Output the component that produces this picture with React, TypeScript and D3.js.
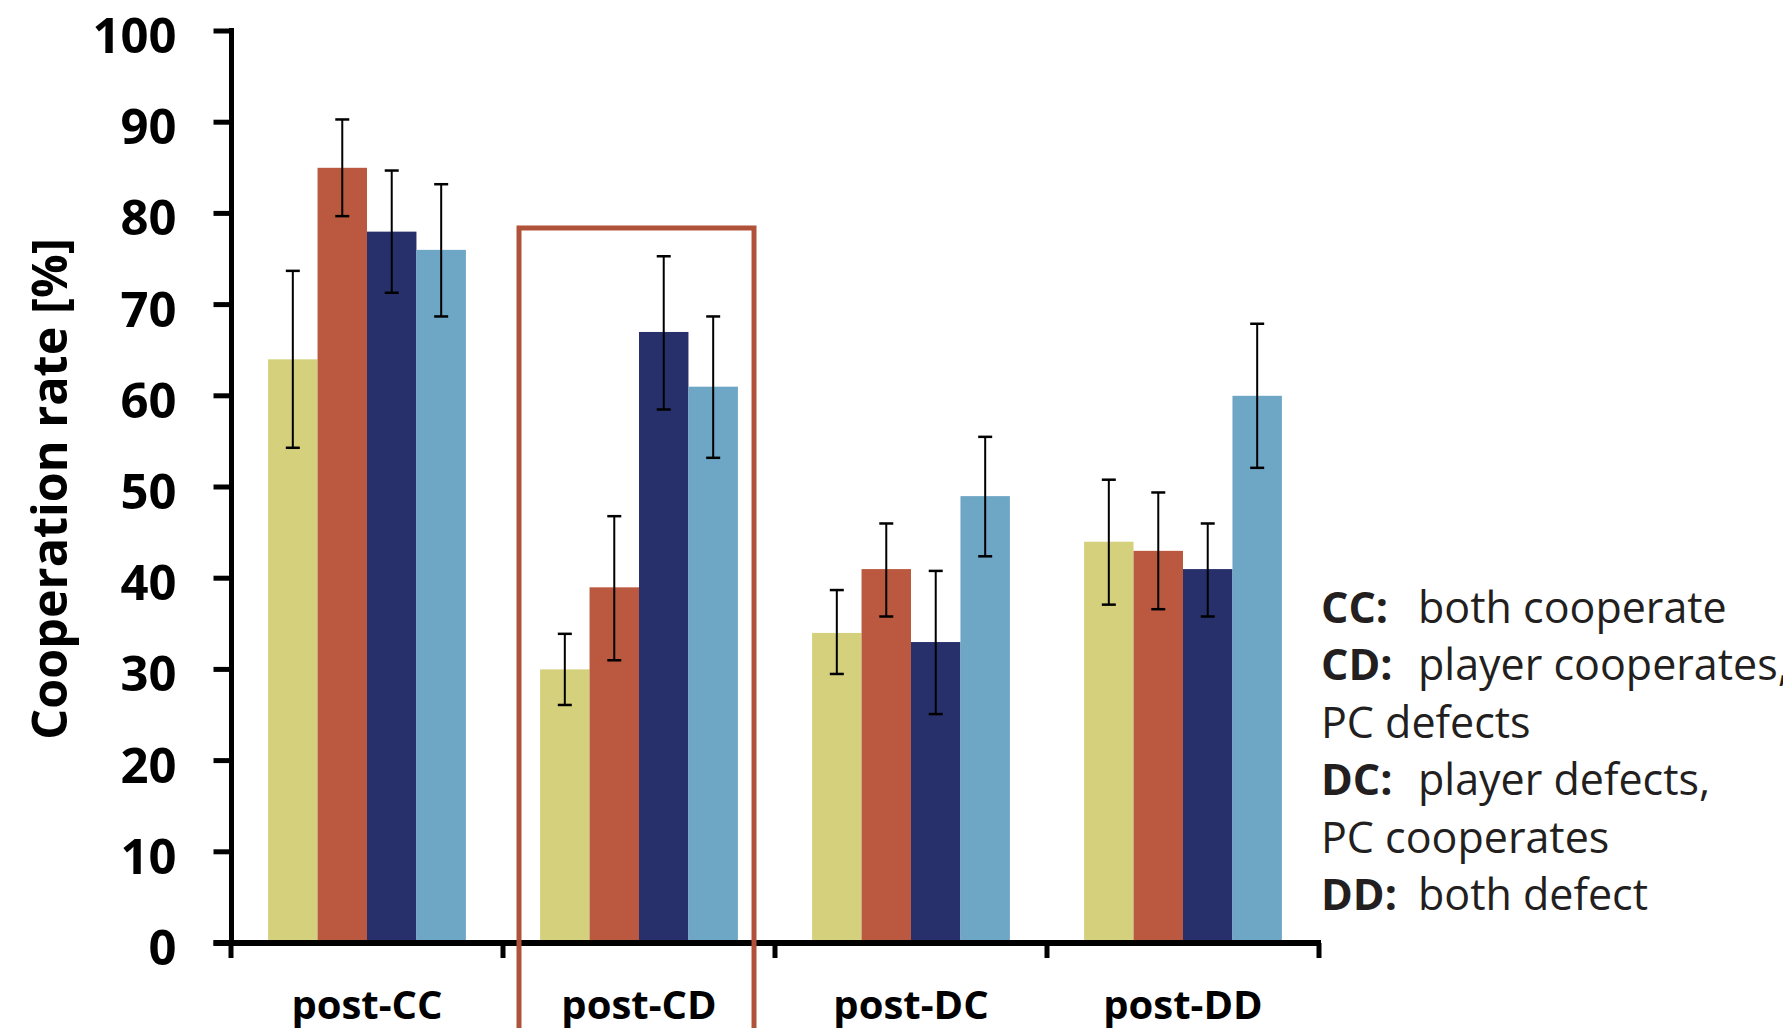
import React, { useEffect, useRef } from 'react';
import * as d3 from 'd3';

const categories = ['post-CC', 'post-CD', 'post-DC', 'post-DD'];
const yTicks = [0, 10, 20, 30, 40, 50, 60, 70, 80, 90, 100];

// four conditions, one value per category
const series1Mean = [64, 30, 34, 44];
const series1Hi = [73.7, 33.9, 38.7, 50.8];
const series1Lo = [54.3, 26.1, 29.5, 37.1];

const series2Mean = [85, 39, 41, 43];
const series2Hi = [90.3, 46.8, 46.0, 49.4];
const series2Lo = [79.7, 31.0, 35.8, 36.6];

const series3Mean = [78, 67, 33, 41];
const series3Hi = [84.7, 75.3, 40.8, 46.0];
const series3Lo = [71.3, 58.5, 25.1, 35.8];

const series4Mean = [76, 61, 49, 60];
const series4Hi = [83.2, 68.7, 55.5, 67.9];
const series4Lo = [68.7, 53.2, 42.4, 52.1];

const seriesColors = ['#d5d07c', '#bb5940', '#27306b', '#6ea7c6'];

const legendLines = [
  { key: 'CC:', text: 'both cooperate' },
  { key: 'CD:', text: 'player cooperates,' },
  { key: '', text: 'PC defects' },
  { key: 'DC:', text: 'player defects,' },
  { key: '', text: 'PC cooperates' },
  { key: 'DD:', text: 'both defect' },
];

const highlighted = 'post-CD';

const W = 1783;
const H = 1028;
const FONT = "'Open Sans', 'DejaVu Sans', sans-serif";

type Row = { cat: string; ci: number; si: number; mean: number; hi: number; lo: number };

const App = () => {
  const ref = useRef<SVGSVGElement>(null);

  useEffect(() => {
    const svg = d3.select(ref.current);
    svg.selectAll('*').remove();

    const means = [series1Mean, series2Mean, series3Mean, series4Mean];
    const his = [series1Hi, series2Hi, series3Hi, series4Hi];
    const los = [series1Lo, series2Lo, series3Lo, series4Lo];

    const rows: Row[] = [];
    categories.forEach((cat, ci) => {
      means.forEach((m, si) => {
        rows.push({ cat, ci, si, mean: m[ci], hi: his[si][ci], lo: los[si][ci] });
      });
    });

    const x = d3.scaleBand().domain(categories).range([231, 1319]).padding(0);
    const xSub = d3.scaleBand<number>()
      .domain([0, 1, 2, 3])
      .range([0, x.bandwidth()])
      .paddingInner(0)
      .paddingOuter(0.75);
    const y = d3.scaleLinear().domain([0, 100]).range([943, 31]);

    // bars
    svg.append('g')
      .selectAll('rect')
      .data(rows)
      .join('rect')
      .attr('x', d => (x(d.cat) as number) + (xSub(d.si) as number))
      .attr('y', d => y(d.mean))
      .attr('width', xSub.bandwidth())
      .attr('height', d => y(0) - y(d.mean))
      .attr('fill', d => seriesColors[d.si]);

    // error bars
    const eb = svg.append('g')
      .selectAll('g')
      .data(rows)
      .join('g')
      .attr('transform', d => `translate(${(x(d.cat) as number) + (xSub(d.si) as number) + xSub.bandwidth() / 2},0)`)
      .attr('stroke', '#000')
      .attr('stroke-width', 2);
    eb.append('line').attr('y1', d => y(d.hi)).attr('y2', d => y(d.lo));
    eb.append('line').attr('x1', -7).attr('x2', 7).attr('y1', d => y(d.hi)).attr('y2', d => y(d.hi)).attr('stroke-width', 2.5);
    eb.append('line').attr('x1', -7).attr('x2', 7).attr('y1', d => y(d.lo)).attr('y2', d => y(d.lo)).attr('stroke-width', 2.5);

    // y axis
    const x0 = 231.5;
    const yAxis = svg.append('g').attr('transform', `translate(${x0},0)`);
    yAxis.append('line')
      .attr('y1', y(100) - 3).attr('y2', y(0) + 3)
      .attr('stroke', '#000').attr('stroke-width', 5);
    yAxis.selectAll('line.tick')
      .data(yTicks)
      .join('line')
      .attr('class', 'tick')
      .attr('x1', -18).attr('x2', 2)
      .attr('y1', d => y(d)).attr('y2', d => y(d))
      .attr('stroke', '#000').attr('stroke-width', 5);
    yAxis.selectAll('text')
      .data(yTicks)
      .join('text')
      .attr('x', -55)
      .attr('y', d => y(d) + 22)
      .attr('text-anchor', 'end')
      .attr('font-family', FONT)
      .attr('font-weight', 'bold')
      .attr('font-size', 49)
      .attr('fill', '#000')
      .text(d => d);

    // y title
    svg.append('text')
      .attr('transform', `translate(67,${(y(0) + y(100)) / 2 + 2}) rotate(-90)`)
      .attr('text-anchor', 'middle')
      .attr('font-family', FONT)
      .attr('font-weight', 'bold')
      .attr('font-size', 48.5)
      .attr('fill', '#000')
      .text('Cooperation rate [%]');

    // x axis
    const xAxis = svg.append('g');
    xAxis.append('line')
      .attr('x1', x0 - 18).attr('x2', 1321)
      .attr('y1', y(0)).attr('y2', y(0))
      .attr('stroke', '#000').attr('stroke-width', 6);
    const bounds = categories.map(c => x(c) as number).concat([x.range()[1]]);
    xAxis.selectAll('line.tick')
      .data(bounds)
      .join('line')
      .attr('class', 'tick')
      .attr('x1', d => d).attr('x2', d => d)
      .attr('y1', y(0)).attr('y2', y(0) + 15)
      .attr('stroke', '#000').attr('stroke-width', 5);
    xAxis.selectAll('text')
      .data(categories)
      .join('text')
      .attr('x', d => (x(d) as number) + x.bandwidth() / 2)
      .attr('y', 1019)
      .attr('text-anchor', 'middle')
      .attr('font-family', FONT)
      .attr('font-weight', 'bold')
      .attr('font-size', 40)
      .attr('fill', '#000')
      .text(d => d);

    // highlight box round post-CD
    const bx = (x(highlighted) as number) + 16;
    svg.append('rect')
      .attr('x', bx)
      .attr('y', y(78.4))
      .attr('width', x.bandwidth() - 37)
      .attr('height', H + 20 - y(78.4))
      .attr('fill', 'none')
      .attr('stroke', '#b0523a')
      .attr('stroke-width', 5);

    // legend
    const lg = svg.append('g')
      .attr('font-family', FONT)
      .attr('font-size', 43)
      .attr('fill', '#231f20');
    const line = lg.selectAll('text')
      .data(legendLines)
      .join('text')
      .attr('x', 1321)
      .attr('y', (d, i) => 623 + i * 57.4);
    line.append('tspan')
      .attr('font-weight', 'bold')
      .text(d => d.key);
    line.append('tspan')
      .attr('x', d => (d.key ? 1418 : 1321))
      .text(d => d.text);
  }, []);

  return (
    <svg
      ref={ref}
      width={W}
      height={H}
      style={{ position: 'absolute', left: 0, top: 0, background: '#fff' }}
    />
  );
};

export default App;
